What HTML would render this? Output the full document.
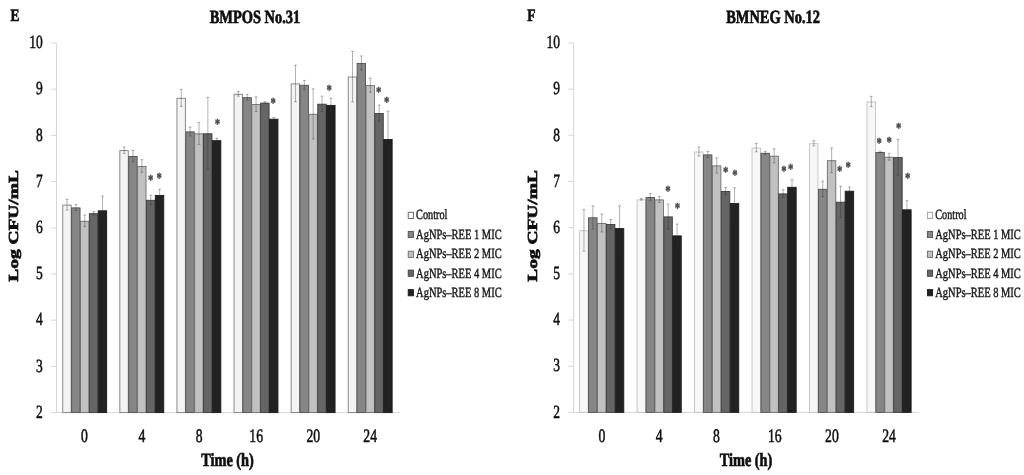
<!DOCTYPE html>
<html><head><meta charset="utf-8"><title>Figure E F</title>
<style>
html,body{margin:0;padding:0;background:#fff;}
body{width:1024px;height:475px;overflow:hidden;}
svg{display:block;text-rendering:geometricPrecision;font-family:'Liberation Serif', serif;}
</style></head><body>
<svg width="1024" height="475" viewBox="0 0 1024 475">
<defs><filter id="bl" x="-2%" y="-2%" width="104%" height="104%"><feGaussianBlur stdDeviation="0.55"/></filter></defs>
<rect width="1024" height="475" fill="#fff"/>
<g filter="url(#bl)">
<path d="M56.50 43.00V412.60H399.40" fill="none" stroke="#d6d6d6" stroke-width="1"/>
<path d="M51.30 43.00H56.50" stroke="#d6d6d6" stroke-width="1"/>
<text transform="translate(42.80,48.15) scale(0.725,1)" font-size="18.6" stroke="#111" stroke-width="0.55" text-anchor="end" fill="#111">10</text>
<path d="M51.30 89.20H56.50" stroke="#d6d6d6" stroke-width="1"/>
<text transform="translate(42.80,94.35) scale(0.725,1)" font-size="18.6" stroke="#111" stroke-width="0.55" text-anchor="end" fill="#111">9</text>
<path d="M51.30 135.40H56.50" stroke="#d6d6d6" stroke-width="1"/>
<text transform="translate(42.80,140.55) scale(0.725,1)" font-size="18.6" stroke="#111" stroke-width="0.55" text-anchor="end" fill="#111">8</text>
<path d="M51.30 181.60H56.50" stroke="#d6d6d6" stroke-width="1"/>
<text transform="translate(42.80,186.75) scale(0.725,1)" font-size="18.6" stroke="#111" stroke-width="0.55" text-anchor="end" fill="#111">7</text>
<path d="M51.30 227.80H56.50" stroke="#d6d6d6" stroke-width="1"/>
<text transform="translate(42.80,232.95) scale(0.725,1)" font-size="18.6" stroke="#111" stroke-width="0.55" text-anchor="end" fill="#111">6</text>
<path d="M51.30 274.00H56.50" stroke="#d6d6d6" stroke-width="1"/>
<text transform="translate(42.80,279.15) scale(0.725,1)" font-size="18.6" stroke="#111" stroke-width="0.55" text-anchor="end" fill="#111">5</text>
<path d="M51.30 320.20H56.50" stroke="#d6d6d6" stroke-width="1"/>
<text transform="translate(42.80,325.35) scale(0.725,1)" font-size="18.6" stroke="#111" stroke-width="0.55" text-anchor="end" fill="#111">4</text>
<path d="M51.30 366.40H56.50" stroke="#d6d6d6" stroke-width="1"/>
<text transform="translate(42.80,371.55) scale(0.725,1)" font-size="18.6" stroke="#111" stroke-width="0.55" text-anchor="end" fill="#111">3</text>
<path d="M51.30 412.60H56.50" stroke="#d6d6d6" stroke-width="1"/>
<text transform="translate(42.80,417.75) scale(0.725,1)" font-size="18.6" stroke="#111" stroke-width="0.55" text-anchor="end" fill="#111">2</text>
<rect x="62.75" y="205.10" width="8.42" height="207.50" fill="#f3f3f3" stroke="#7e7e7e" stroke-width="0.9"/>
<rect x="71.62" y="207.90" width="8.42" height="204.70" fill="#868686" stroke="#515151" stroke-width="0.9"/>
<rect x="80.49" y="221.30" width="8.42" height="191.30" fill="#c1c1c1" stroke="#6e6e6e" stroke-width="0.9"/>
<rect x="89.36" y="213.70" width="8.42" height="198.90" fill="#656565" stroke="#3e3e3e" stroke-width="0.9"/>
<rect x="98.23" y="210.80" width="8.42" height="201.80" fill="#232323" stroke="#1a1a1a" stroke-width="0.9"/>
<path d="M67.03 199.40V210.00M65.63 199.40h2.8M65.63 210.00h2.8" fill="none" stroke="#2e2e2e" stroke-opacity="0.62" stroke-width="0.6"/>
<path d="M75.91 204.50V210.50M74.50 204.50h2.8M74.50 210.50h2.8" fill="none" stroke="#2e2e2e" stroke-opacity="0.62" stroke-width="0.6"/>
<path d="M84.77 215.10V226.70M83.37 215.10h2.8M83.37 226.70h2.8" fill="none" stroke="#2e2e2e" stroke-opacity="0.62" stroke-width="0.6"/>
<path d="M93.64 211.70V214.90M92.24 211.70h2.8M92.24 214.90h2.8" fill="none" stroke="#2e2e2e" stroke-opacity="0.62" stroke-width="0.6"/>
<path d="M102.52 196.20V224.60M101.11 196.20h2.8M101.11 224.60h2.8" fill="none" stroke="#2e2e2e" stroke-opacity="0.62" stroke-width="0.6"/>
<text transform="translate(84.40,442.30) scale(0.72,1)" font-size="19" stroke="#111" stroke-width="0.55" text-anchor="middle" fill="#111">0</text>
<rect x="119.85" y="150.60" width="8.42" height="262.00" fill="#f3f3f3" stroke="#7e7e7e" stroke-width="0.9"/>
<rect x="128.72" y="156.50" width="8.42" height="256.10" fill="#868686" stroke="#515151" stroke-width="0.9"/>
<rect x="137.59" y="166.40" width="8.42" height="246.20" fill="#c1c1c1" stroke="#6e6e6e" stroke-width="0.9"/>
<rect x="146.46" y="200.30" width="8.42" height="212.30" fill="#656565" stroke="#3e3e3e" stroke-width="0.9"/>
<rect x="155.33" y="195.40" width="8.42" height="217.20" fill="#232323" stroke="#1a1a1a" stroke-width="0.9"/>
<path d="M124.14 147.00V153.40M122.73 147.00h2.8M122.73 153.40h2.8" fill="none" stroke="#2e2e2e" stroke-opacity="0.62" stroke-width="0.6"/>
<path d="M133.01 150.40V161.80M131.61 150.40h2.8M131.61 161.80h2.8" fill="none" stroke="#2e2e2e" stroke-opacity="0.62" stroke-width="0.6"/>
<path d="M141.88 159.70V172.30M140.48 159.70h2.8M140.48 172.30h2.8" fill="none" stroke="#2e2e2e" stroke-opacity="0.62" stroke-width="0.6"/>
<path d="M150.75 195.20V204.60M149.34 195.20h2.8M149.34 204.60h2.8" fill="none" stroke="#2e2e2e" stroke-opacity="0.62" stroke-width="0.6"/>
<path d="M159.62 189.20V200.80M158.22 189.20h2.8M158.22 200.80h2.8" fill="none" stroke="#2e2e2e" stroke-opacity="0.62" stroke-width="0.6"/>
<text transform="translate(141.80,442.30) scale(0.72,1)" font-size="19" stroke="#111" stroke-width="0.55" text-anchor="middle" fill="#111">4</text>
<rect x="176.95" y="98.30" width="8.42" height="314.30" fill="#f3f3f3" stroke="#7e7e7e" stroke-width="0.9"/>
<rect x="185.82" y="131.90" width="8.42" height="280.70" fill="#868686" stroke="#515151" stroke-width="0.9"/>
<rect x="194.69" y="133.80" width="8.42" height="278.80" fill="#c1c1c1" stroke="#6e6e6e" stroke-width="0.9"/>
<rect x="203.56" y="133.80" width="8.42" height="278.80" fill="#656565" stroke="#3e3e3e" stroke-width="0.9"/>
<rect x="212.43" y="140.70" width="8.42" height="271.90" fill="#232323" stroke="#1a1a1a" stroke-width="0.9"/>
<path d="M181.24 89.40V106.40M179.84 89.40h2.8M179.84 106.40h2.8" fill="none" stroke="#2e2e2e" stroke-opacity="0.62" stroke-width="0.6"/>
<path d="M190.11 127.10V135.90M188.71 127.10h2.8M188.71 135.90h2.8" fill="none" stroke="#2e2e2e" stroke-opacity="0.62" stroke-width="0.6"/>
<path d="M198.98 122.40V144.40M197.58 122.40h2.8M197.58 144.40h2.8" fill="none" stroke="#2e2e2e" stroke-opacity="0.62" stroke-width="0.6"/>
<path d="M207.85 97.40V169.40M206.45 97.40h2.8M206.45 169.40h2.8" fill="none" stroke="#2e2e2e" stroke-opacity="0.62" stroke-width="0.6"/>
<path d="M216.72 138.30V142.30M215.31 138.30h2.8M215.31 142.30h2.8" fill="none" stroke="#2e2e2e" stroke-opacity="0.62" stroke-width="0.6"/>
<text transform="translate(199.10,442.30) scale(0.72,1)" font-size="19" stroke="#111" stroke-width="0.55" text-anchor="middle" fill="#111">8</text>
<rect x="234.05" y="94.30" width="8.42" height="318.30" fill="#f3f3f3" stroke="#7e7e7e" stroke-width="0.9"/>
<rect x="242.92" y="97.70" width="8.42" height="314.90" fill="#868686" stroke="#515151" stroke-width="0.9"/>
<rect x="251.79" y="104.60" width="8.42" height="308.00" fill="#c1c1c1" stroke="#6e6e6e" stroke-width="0.9"/>
<rect x="260.66" y="103.10" width="8.42" height="309.50" fill="#656565" stroke="#3e3e3e" stroke-width="0.9"/>
<rect x="269.53" y="119.20" width="8.42" height="293.40" fill="#232323" stroke="#1a1a1a" stroke-width="0.9"/>
<path d="M238.34 91.60V96.20M236.94 91.60h2.8M236.94 96.20h2.8" fill="none" stroke="#2e2e2e" stroke-opacity="0.62" stroke-width="0.6"/>
<path d="M247.21 94.40V100.20M245.81 94.40h2.8M245.81 100.20h2.8" fill="none" stroke="#2e2e2e" stroke-opacity="0.62" stroke-width="0.6"/>
<path d="M256.08 96.90V111.50M254.68 96.90h2.8M254.68 111.50h2.8" fill="none" stroke="#2e2e2e" stroke-opacity="0.62" stroke-width="0.6"/>
<path d="M264.95 101.70V103.70M263.55 101.70h2.8M263.55 103.70h2.8" fill="none" stroke="#2e2e2e" stroke-opacity="0.62" stroke-width="0.6"/>
<path d="M273.82 117.50V120.10M272.42 117.50h2.8M272.42 120.10h2.8" fill="none" stroke="#2e2e2e" stroke-opacity="0.62" stroke-width="0.6"/>
<text transform="translate(256.20,442.30) scale(0.72,1)" font-size="19" stroke="#111" stroke-width="0.55" text-anchor="middle" fill="#111">16</text>
<rect x="291.15" y="83.90" width="8.42" height="328.70" fill="#f3f3f3" stroke="#7e7e7e" stroke-width="0.9"/>
<rect x="300.02" y="85.30" width="8.42" height="327.30" fill="#868686" stroke="#515151" stroke-width="0.9"/>
<rect x="308.89" y="114.30" width="8.42" height="298.30" fill="#c1c1c1" stroke="#6e6e6e" stroke-width="0.9"/>
<rect x="317.76" y="104.20" width="8.42" height="308.40" fill="#656565" stroke="#3e3e3e" stroke-width="0.9"/>
<rect x="326.63" y="105.40" width="8.42" height="307.20" fill="#232323" stroke="#1a1a1a" stroke-width="0.9"/>
<path d="M295.44 65.30V101.70M294.04 65.30h2.8M294.04 101.70h2.8" fill="none" stroke="#2e2e2e" stroke-opacity="0.62" stroke-width="0.6"/>
<path d="M304.31 80.40V89.40M302.91 80.40h2.8M302.91 89.40h2.8" fill="none" stroke="#2e2e2e" stroke-opacity="0.62" stroke-width="0.6"/>
<path d="M313.18 88.90V138.90M311.78 88.90h2.8M311.78 138.90h2.8" fill="none" stroke="#2e2e2e" stroke-opacity="0.62" stroke-width="0.6"/>
<path d="M322.05 96.10V111.50M320.65 96.10h2.8M320.65 111.50h2.8" fill="none" stroke="#2e2e2e" stroke-opacity="0.62" stroke-width="0.6"/>
<path d="M330.92 98.30V111.70M329.52 98.30h2.8M329.52 111.70h2.8" fill="none" stroke="#2e2e2e" stroke-opacity="0.62" stroke-width="0.6"/>
<text transform="translate(313.30,442.30) scale(0.72,1)" font-size="19" stroke="#111" stroke-width="0.55" text-anchor="middle" fill="#111">20</text>
<rect x="348.25" y="77.00" width="8.42" height="335.60" fill="#f3f3f3" stroke="#7e7e7e" stroke-width="0.9"/>
<rect x="357.12" y="63.40" width="8.42" height="349.20" fill="#868686" stroke="#515151" stroke-width="0.9"/>
<rect x="365.99" y="85.60" width="8.42" height="327.00" fill="#c1c1c1" stroke="#6e6e6e" stroke-width="0.9"/>
<rect x="374.86" y="113.50" width="8.42" height="299.10" fill="#656565" stroke="#3e3e3e" stroke-width="0.9"/>
<rect x="383.73" y="139.50" width="8.42" height="273.10" fill="#232323" stroke="#1a1a1a" stroke-width="0.9"/>
<path d="M352.54 51.40V101.80M351.14 51.40h2.8M351.14 101.80h2.8" fill="none" stroke="#2e2e2e" stroke-opacity="0.62" stroke-width="0.6"/>
<path d="M361.41 56.00V70.00M360.01 56.00h2.8M360.01 70.00h2.8" fill="none" stroke="#2e2e2e" stroke-opacity="0.62" stroke-width="0.6"/>
<path d="M370.28 78.20V92.20M368.88 78.20h2.8M368.88 92.20h2.8" fill="none" stroke="#2e2e2e" stroke-opacity="0.62" stroke-width="0.6"/>
<path d="M379.15 105.10V121.10M377.75 105.10h2.8M377.75 121.10h2.8" fill="none" stroke="#2e2e2e" stroke-opacity="0.62" stroke-width="0.6"/>
<path d="M388.02 111.10V167.10M386.62 111.10h2.8M386.62 167.10h2.8" fill="none" stroke="#2e2e2e" stroke-opacity="0.62" stroke-width="0.6"/>
<text transform="translate(370.20,442.30) scale(0.72,1)" font-size="19" stroke="#111" stroke-width="0.55" text-anchor="middle" fill="#111">24</text>
<text transform="translate(150.70,185.40) scale(0.7,1)" font-size="15.3" font-weight="bold" stroke="#3c3c3c" stroke-width="0.3" text-anchor="middle" fill="#3c3c3c">*</text>
<text transform="translate(159.20,182.90) scale(0.7,1)" font-size="15.3" font-weight="bold" stroke="#3c3c3c" stroke-width="0.3" text-anchor="middle" fill="#3c3c3c">*</text>
<text transform="translate(217.40,128.70) scale(0.7,1)" font-size="15.3" font-weight="bold" stroke="#3c3c3c" stroke-width="0.3" text-anchor="middle" fill="#3c3c3c">*</text>
<text transform="translate(273.20,107.80) scale(0.7,1)" font-size="15.3" font-weight="bold" stroke="#3c3c3c" stroke-width="0.3" text-anchor="middle" fill="#3c3c3c">*</text>
<text transform="translate(329.30,95.00) scale(0.7,1)" font-size="15.3" font-weight="bold" stroke="#3c3c3c" stroke-width="0.3" text-anchor="middle" fill="#3c3c3c">*</text>
<text transform="translate(378.80,96.60) scale(0.7,1)" font-size="15.3" font-weight="bold" stroke="#3c3c3c" stroke-width="0.3" text-anchor="middle" fill="#3c3c3c">*</text>
<text transform="translate(386.80,106.60) scale(0.7,1)" font-size="15.3" font-weight="bold" stroke="#3c3c3c" stroke-width="0.3" text-anchor="middle" fill="#3c3c3c">*</text>
<text transform="translate(255.00,22.55) scale(0.776,1)" font-size="18.6" font-weight="bold" stroke="#111" stroke-width="0.7" text-anchor="middle" fill="#111">BMPOS No.31</text>
<text transform="translate(10.40,20.95) scale(0.765,1)" font-size="17.6" font-weight="bold" stroke="#111" stroke-width="0.7" text-anchor="start" fill="#111">E</text>
<text transform="translate(227.50,466.00) scale(0.766,1)" font-size="18.7" font-weight="bold" stroke="#111" stroke-width="0.7" text-anchor="middle" fill="#111">Time (h)</text>
<text transform="translate(18.00,225.90) scale(0.715,1) rotate(-90)" font-size="19.4" font-weight="bold" stroke="#111" stroke-width="0.9" text-anchor="middle" fill="#111">Log CFU/mL</text>
<rect x="408.20" y="212.25" width="5.2" height="6.2" fill="#fafafa" stroke="#5c5c5c" stroke-width="0.9"/>
<text transform="translate(416.10,218.90) scale(0.73,1)" font-size="14.0" stroke="#1a1a1a" stroke-width="0.45" text-anchor="start" fill="#1a1a1a">Control</text>
<rect x="408.20" y="231.40" width="5.2" height="6.2" fill="#868686" stroke="#505050" stroke-width="0.9"/>
<text transform="translate(416.10,239.00) scale(0.748,1)" font-size="14.0" stroke="#1a1a1a" stroke-width="0.45" text-anchor="start" fill="#1a1a1a">AgNPs–REE 1 MIC</text>
<rect x="408.20" y="251.20" width="5.2" height="6.2" fill="#c1c1c1" stroke="#6a6a6a" stroke-width="0.9"/>
<text transform="translate(416.10,258.35) scale(0.748,1)" font-size="14.0" stroke="#1a1a1a" stroke-width="0.45" text-anchor="start" fill="#1a1a1a">AgNPs–REE 2 MIC</text>
<rect x="408.20" y="270.10" width="5.2" height="6.2" fill="#656565" stroke="#444" stroke-width="0.9"/>
<text transform="translate(416.10,277.60) scale(0.748,1)" font-size="14.0" stroke="#1a1a1a" stroke-width="0.45" text-anchor="start" fill="#1a1a1a">AgNPs–REE 4 MIC</text>
<rect x="408.20" y="289.60" width="5.2" height="6.2" fill="#232323" stroke="#1c1c1c" stroke-width="0.9"/>
<text transform="translate(416.10,297.00) scale(0.748,1)" font-size="14.0" stroke="#1a1a1a" stroke-width="0.45" text-anchor="start" fill="#1a1a1a">AgNPs–REE 8 MIC</text>
<path d="M573.60 43.00V412.40H918.66" fill="none" stroke="#d6d6d6" stroke-width="1"/>
<path d="M568.40 43.00H573.60" stroke="#d6d6d6" stroke-width="1"/>
<text transform="translate(559.90,48.15) scale(0.725,1)" font-size="18.6" stroke="#111" stroke-width="0.55" text-anchor="end" fill="#111">10</text>
<path d="M568.40 89.17H573.60" stroke="#d6d6d6" stroke-width="1"/>
<text transform="translate(559.90,94.33) scale(0.725,1)" font-size="18.6" stroke="#111" stroke-width="0.55" text-anchor="end" fill="#111">9</text>
<path d="M568.40 135.35H573.60" stroke="#d6d6d6" stroke-width="1"/>
<text transform="translate(559.90,140.50) scale(0.725,1)" font-size="18.6" stroke="#111" stroke-width="0.55" text-anchor="end" fill="#111">8</text>
<path d="M568.40 181.52H573.60" stroke="#d6d6d6" stroke-width="1"/>
<text transform="translate(559.90,186.67) scale(0.725,1)" font-size="18.6" stroke="#111" stroke-width="0.55" text-anchor="end" fill="#111">7</text>
<path d="M568.40 227.70H573.60" stroke="#d6d6d6" stroke-width="1"/>
<text transform="translate(559.90,232.85) scale(0.725,1)" font-size="18.6" stroke="#111" stroke-width="0.55" text-anchor="end" fill="#111">6</text>
<path d="M568.40 273.88H573.60" stroke="#d6d6d6" stroke-width="1"/>
<text transform="translate(559.90,279.02) scale(0.725,1)" font-size="18.6" stroke="#111" stroke-width="0.55" text-anchor="end" fill="#111">5</text>
<path d="M568.40 320.05H573.60" stroke="#d6d6d6" stroke-width="1"/>
<text transform="translate(559.90,325.20) scale(0.725,1)" font-size="18.6" stroke="#111" stroke-width="0.55" text-anchor="end" fill="#111">4</text>
<path d="M568.40 366.22H573.60" stroke="#d6d6d6" stroke-width="1"/>
<text transform="translate(559.90,371.37) scale(0.725,1)" font-size="18.6" stroke="#111" stroke-width="0.55" text-anchor="end" fill="#111">3</text>
<path d="M568.40 412.40H573.60" stroke="#d6d6d6" stroke-width="1"/>
<text transform="translate(559.90,417.55) scale(0.725,1)" font-size="18.6" stroke="#111" stroke-width="0.55" text-anchor="end" fill="#111">2</text>
<rect x="579.65" y="230.80" width="8.47" height="181.60" fill="#f7f7f7" stroke="#c2c2c2" stroke-width="0.9"/>
<rect x="588.57" y="217.80" width="8.47" height="194.60" fill="#868686" stroke="#515151" stroke-width="0.9"/>
<rect x="597.49" y="223.40" width="8.47" height="189.00" fill="#c1c1c1" stroke="#6e6e6e" stroke-width="0.9"/>
<rect x="606.41" y="224.50" width="8.47" height="187.90" fill="#656565" stroke="#3e3e3e" stroke-width="0.9"/>
<rect x="615.33" y="228.60" width="8.47" height="183.80" fill="#232323" stroke="#1a1a1a" stroke-width="0.9"/>
<path d="M583.96 209.60V251.20M582.56 209.60h2.8M582.56 251.20h2.8" fill="none" stroke="#2e2e2e" stroke-opacity="0.62" stroke-width="0.6"/>
<path d="M592.88 205.80V229.00M591.48 205.80h2.8M591.48 229.00h2.8" fill="none" stroke="#2e2e2e" stroke-opacity="0.62" stroke-width="0.6"/>
<path d="M601.80 214.00V232.00M600.40 214.00h2.8M600.40 232.00h2.8" fill="none" stroke="#2e2e2e" stroke-opacity="0.62" stroke-width="0.6"/>
<path d="M610.72 219.50V228.70M609.32 219.50h2.8M609.32 228.70h2.8" fill="none" stroke="#2e2e2e" stroke-opacity="0.62" stroke-width="0.6"/>
<path d="M619.64 205.80V250.60M618.24 205.80h2.8M618.24 250.60h2.8" fill="none" stroke="#2e2e2e" stroke-opacity="0.62" stroke-width="0.6"/>
<text transform="translate(601.90,442.30) scale(0.72,1)" font-size="19" stroke="#111" stroke-width="0.55" text-anchor="middle" fill="#111">0</text>
<rect x="637.11" y="199.80" width="8.47" height="212.60" fill="#f7f7f7" stroke="#c2c2c2" stroke-width="0.9"/>
<rect x="646.03" y="197.50" width="8.47" height="214.90" fill="#868686" stroke="#515151" stroke-width="0.9"/>
<rect x="654.95" y="199.90" width="8.47" height="212.50" fill="#c1c1c1" stroke="#6e6e6e" stroke-width="0.9"/>
<rect x="663.87" y="216.90" width="8.47" height="195.50" fill="#656565" stroke="#3e3e3e" stroke-width="0.9"/>
<rect x="672.79" y="235.90" width="8.47" height="176.50" fill="#232323" stroke="#1a1a1a" stroke-width="0.9"/>
<path d="M641.42 198.70V200.10M640.02 198.70h2.8M640.02 200.10h2.8" fill="none" stroke="#2e2e2e" stroke-opacity="0.62" stroke-width="0.6"/>
<path d="M650.34 193.50V200.70M648.94 193.50h2.8M648.94 200.70h2.8" fill="none" stroke="#2e2e2e" stroke-opacity="0.62" stroke-width="0.6"/>
<path d="M659.26 196.50V202.50M657.86 196.50h2.8M657.86 202.50h2.8" fill="none" stroke="#2e2e2e" stroke-opacity="0.62" stroke-width="0.6"/>
<path d="M668.18 204.10V228.90M666.78 204.10h2.8M666.78 228.90h2.8" fill="none" stroke="#2e2e2e" stroke-opacity="0.62" stroke-width="0.6"/>
<path d="M677.10 224.10V246.90M675.70 224.10h2.8M675.70 246.90h2.8" fill="none" stroke="#2e2e2e" stroke-opacity="0.62" stroke-width="0.6"/>
<text transform="translate(659.10,442.30) scale(0.72,1)" font-size="19" stroke="#111" stroke-width="0.55" text-anchor="middle" fill="#111">4</text>
<rect x="694.57" y="152.00" width="8.47" height="260.40" fill="#f7f7f7" stroke="#c2c2c2" stroke-width="0.9"/>
<rect x="703.49" y="154.90" width="8.47" height="257.50" fill="#868686" stroke="#515151" stroke-width="0.9"/>
<rect x="712.41" y="165.90" width="8.47" height="246.50" fill="#c1c1c1" stroke="#6e6e6e" stroke-width="0.9"/>
<rect x="721.33" y="191.50" width="8.47" height="220.90" fill="#656565" stroke="#3e3e3e" stroke-width="0.9"/>
<rect x="730.25" y="203.60" width="8.47" height="208.80" fill="#232323" stroke="#1a1a1a" stroke-width="0.9"/>
<path d="M698.88 147.10V156.10M697.48 147.10h2.8M697.48 156.10h2.8" fill="none" stroke="#2e2e2e" stroke-opacity="0.62" stroke-width="0.6"/>
<path d="M707.80 151.50V157.50M706.40 151.50h2.8M706.40 157.50h2.8" fill="none" stroke="#2e2e2e" stroke-opacity="0.62" stroke-width="0.6"/>
<path d="M716.72 157.80V173.20M715.32 157.80h2.8M715.32 173.20h2.8" fill="none" stroke="#2e2e2e" stroke-opacity="0.62" stroke-width="0.6"/>
<path d="M725.64 187.40V194.80M724.24 187.40h2.8M724.24 194.80h2.8" fill="none" stroke="#2e2e2e" stroke-opacity="0.62" stroke-width="0.6"/>
<path d="M734.56 187.80V218.60M733.16 187.80h2.8M733.16 218.60h2.8" fill="none" stroke="#2e2e2e" stroke-opacity="0.62" stroke-width="0.6"/>
<text transform="translate(716.50,442.30) scale(0.72,1)" font-size="19" stroke="#111" stroke-width="0.55" text-anchor="middle" fill="#111">8</text>
<rect x="752.03" y="148.00" width="8.47" height="264.40" fill="#f7f7f7" stroke="#c2c2c2" stroke-width="0.9"/>
<rect x="760.95" y="153.30" width="8.47" height="259.10" fill="#868686" stroke="#515151" stroke-width="0.9"/>
<rect x="769.87" y="156.20" width="8.47" height="256.20" fill="#c1c1c1" stroke="#6e6e6e" stroke-width="0.9"/>
<rect x="778.79" y="193.90" width="8.47" height="218.50" fill="#656565" stroke="#3e3e3e" stroke-width="0.9"/>
<rect x="787.71" y="187.30" width="8.47" height="225.10" fill="#232323" stroke="#1a1a1a" stroke-width="0.9"/>
<path d="M756.34 143.40V151.80M754.94 143.40h2.8M754.94 151.80h2.8" fill="none" stroke="#2e2e2e" stroke-opacity="0.62" stroke-width="0.6"/>
<path d="M765.26 151.40V154.40M763.86 151.40h2.8M763.86 154.40h2.8" fill="none" stroke="#2e2e2e" stroke-opacity="0.62" stroke-width="0.6"/>
<path d="M774.18 148.80V162.80M772.78 148.80h2.8M772.78 162.80h2.8" fill="none" stroke="#2e2e2e" stroke-opacity="0.62" stroke-width="0.6"/>
<path d="M783.10 189.70V197.30M781.70 189.70h2.8M781.70 197.30h2.8" fill="none" stroke="#2e2e2e" stroke-opacity="0.62" stroke-width="0.6"/>
<path d="M792.02 179.60V194.20M790.62 179.60h2.8M790.62 194.20h2.8" fill="none" stroke="#2e2e2e" stroke-opacity="0.62" stroke-width="0.6"/>
<text transform="translate(774.80,442.30) scale(0.72,1)" font-size="19" stroke="#111" stroke-width="0.55" text-anchor="middle" fill="#111">16</text>
<rect x="809.49" y="143.70" width="8.47" height="268.70" fill="#f7f7f7" stroke="#c2c2c2" stroke-width="0.9"/>
<rect x="818.41" y="189.30" width="8.47" height="223.10" fill="#868686" stroke="#515151" stroke-width="0.9"/>
<rect x="827.33" y="160.70" width="8.47" height="251.70" fill="#c1c1c1" stroke="#6e6e6e" stroke-width="0.9"/>
<rect x="836.25" y="202.20" width="8.47" height="210.20" fill="#656565" stroke="#3e3e3e" stroke-width="0.9"/>
<rect x="845.17" y="191.20" width="8.47" height="221.20" fill="#232323" stroke="#1a1a1a" stroke-width="0.9"/>
<path d="M813.80 140.70V145.90M812.40 140.70h2.8M812.40 145.90h2.8" fill="none" stroke="#2e2e2e" stroke-opacity="0.62" stroke-width="0.6"/>
<path d="M822.72 181.30V196.50M821.32 181.30h2.8M821.32 196.50h2.8" fill="none" stroke="#2e2e2e" stroke-opacity="0.62" stroke-width="0.6"/>
<path d="M831.64 148.00V172.60M830.24 148.00h2.8M830.24 172.60h2.8" fill="none" stroke="#2e2e2e" stroke-opacity="0.62" stroke-width="0.6"/>
<path d="M840.56 186.10V217.50M839.16 186.10h2.8M839.16 217.50h2.8" fill="none" stroke="#2e2e2e" stroke-opacity="0.62" stroke-width="0.6"/>
<path d="M849.48 187.10V194.50M848.08 187.10h2.8M848.08 194.50h2.8" fill="none" stroke="#2e2e2e" stroke-opacity="0.62" stroke-width="0.6"/>
<text transform="translate(831.90,442.30) scale(0.72,1)" font-size="19" stroke="#111" stroke-width="0.55" text-anchor="middle" fill="#111">20</text>
<rect x="866.95" y="101.90" width="8.47" height="310.50" fill="#f7f7f7" stroke="#c2c2c2" stroke-width="0.9"/>
<rect x="875.87" y="152.50" width="8.47" height="259.90" fill="#868686" stroke="#515151" stroke-width="0.9"/>
<rect x="884.79" y="157.20" width="8.47" height="255.20" fill="#c1c1c1" stroke="#6e6e6e" stroke-width="0.9"/>
<rect x="893.71" y="157.60" width="8.47" height="254.80" fill="#656565" stroke="#3e3e3e" stroke-width="0.9"/>
<rect x="902.63" y="209.80" width="8.47" height="202.60" fill="#232323" stroke="#1a1a1a" stroke-width="0.9"/>
<path d="M871.26 96.30V106.70M869.86 96.30h2.8M869.86 106.70h2.8" fill="none" stroke="#2e2e2e" stroke-opacity="0.62" stroke-width="0.6"/>
<path d="M880.18 151.60V152.60M878.78 151.60h2.8M878.78 152.60h2.8" fill="none" stroke="#2e2e2e" stroke-opacity="0.62" stroke-width="0.6"/>
<path d="M889.10 153.40V160.20M887.70 153.40h2.8M887.70 160.20h2.8" fill="none" stroke="#2e2e2e" stroke-opacity="0.62" stroke-width="0.6"/>
<path d="M898.02 139.40V175.00M896.62 139.40h2.8M896.62 175.00h2.8" fill="none" stroke="#2e2e2e" stroke-opacity="0.62" stroke-width="0.6"/>
<path d="M906.94 200.60V218.20M905.54 200.60h2.8M905.54 218.20h2.8" fill="none" stroke="#2e2e2e" stroke-opacity="0.62" stroke-width="0.6"/>
<text transform="translate(889.10,442.30) scale(0.72,1)" font-size="19" stroke="#111" stroke-width="0.55" text-anchor="middle" fill="#111">24</text>
<text transform="translate(667.90,196.40) scale(0.7,1)" font-size="15.3" font-weight="bold" stroke="#3c3c3c" stroke-width="0.3" text-anchor="middle" fill="#3c3c3c">*</text>
<text transform="translate(677.40,213.30) scale(0.7,1)" font-size="15.3" font-weight="bold" stroke="#3c3c3c" stroke-width="0.3" text-anchor="middle" fill="#3c3c3c">*</text>
<text transform="translate(725.80,177.00) scale(0.7,1)" font-size="15.3" font-weight="bold" stroke="#3c3c3c" stroke-width="0.3" text-anchor="middle" fill="#3c3c3c">*</text>
<text transform="translate(735.00,179.80) scale(0.7,1)" font-size="15.3" font-weight="bold" stroke="#3c3c3c" stroke-width="0.3" text-anchor="middle" fill="#3c3c3c">*</text>
<text transform="translate(783.90,176.30) scale(0.7,1)" font-size="15.3" font-weight="bold" stroke="#3c3c3c" stroke-width="0.3" text-anchor="middle" fill="#3c3c3c">*</text>
<text transform="translate(790.70,173.70) scale(0.7,1)" font-size="15.3" font-weight="bold" stroke="#3c3c3c" stroke-width="0.3" text-anchor="middle" fill="#3c3c3c">*</text>
<text transform="translate(839.80,175.60) scale(0.7,1)" font-size="15.3" font-weight="bold" stroke="#3c3c3c" stroke-width="0.3" text-anchor="middle" fill="#3c3c3c">*</text>
<text transform="translate(848.30,172.20) scale(0.7,1)" font-size="15.3" font-weight="bold" stroke="#3c3c3c" stroke-width="0.3" text-anchor="middle" fill="#3c3c3c">*</text>
<text transform="translate(879.20,147.50) scale(0.7,1)" font-size="15.3" font-weight="bold" stroke="#3c3c3c" stroke-width="0.3" text-anchor="middle" fill="#3c3c3c">*</text>
<text transform="translate(889.20,147.00) scale(0.7,1)" font-size="15.3" font-weight="bold" stroke="#3c3c3c" stroke-width="0.3" text-anchor="middle" fill="#3c3c3c">*</text>
<text transform="translate(898.80,132.60) scale(0.7,1)" font-size="15.3" font-weight="bold" stroke="#3c3c3c" stroke-width="0.3" text-anchor="middle" fill="#3c3c3c">*</text>
<text transform="translate(907.80,182.50) scale(0.7,1)" font-size="15.3" font-weight="bold" stroke="#3c3c3c" stroke-width="0.3" text-anchor="middle" fill="#3c3c3c">*</text>
<text transform="translate(773.10,22.55) scale(0.776,1)" font-size="18.6" font-weight="bold" stroke="#111" stroke-width="0.7" text-anchor="middle" fill="#111">BMNEG No.12</text>
<text transform="translate(527.20,20.95) scale(0.765,1)" font-size="17.6" font-weight="bold" stroke="#111" stroke-width="0.7" text-anchor="start" fill="#111">F</text>
<text transform="translate(746.00,466.00) scale(0.766,1)" font-size="18.7" font-weight="bold" stroke="#111" stroke-width="0.7" text-anchor="middle" fill="#111">Time (h)</text>
<text transform="translate(536.60,225.90) scale(0.715,1) rotate(-90)" font-size="19.4" font-weight="bold" stroke="#111" stroke-width="0.9" text-anchor="middle" fill="#111">Log CFU/mL</text>
<rect x="927.40" y="212.25" width="5.2" height="6.2" fill="#fafafa" stroke="#9a9a9a" stroke-width="0.9"/>
<text transform="translate(935.30,218.90) scale(0.73,1)" font-size="14.0" stroke="#1a1a1a" stroke-width="0.45" text-anchor="start" fill="#1a1a1a">Control</text>
<rect x="927.40" y="231.40" width="5.2" height="6.2" fill="#868686" stroke="#505050" stroke-width="0.9"/>
<text transform="translate(935.30,239.00) scale(0.748,1)" font-size="14.0" stroke="#1a1a1a" stroke-width="0.45" text-anchor="start" fill="#1a1a1a">AgNPs–REE 1 MIC</text>
<rect x="927.40" y="251.20" width="5.2" height="6.2" fill="#c1c1c1" stroke="#6a6a6a" stroke-width="0.9"/>
<text transform="translate(935.30,258.35) scale(0.748,1)" font-size="14.0" stroke="#1a1a1a" stroke-width="0.45" text-anchor="start" fill="#1a1a1a">AgNPs–REE 2 MIC</text>
<rect x="927.40" y="270.10" width="5.2" height="6.2" fill="#656565" stroke="#444" stroke-width="0.9"/>
<text transform="translate(935.30,277.60) scale(0.748,1)" font-size="14.0" stroke="#1a1a1a" stroke-width="0.45" text-anchor="start" fill="#1a1a1a">AgNPs–REE 4 MIC</text>
<rect x="927.40" y="289.60" width="5.2" height="6.2" fill="#232323" stroke="#1c1c1c" stroke-width="0.9"/>
<text transform="translate(935.30,297.00) scale(0.748,1)" font-size="14.0" stroke="#1a1a1a" stroke-width="0.45" text-anchor="start" fill="#1a1a1a">AgNPs–REE 8 MIC</text>
</g>
</svg>
</body></html>
